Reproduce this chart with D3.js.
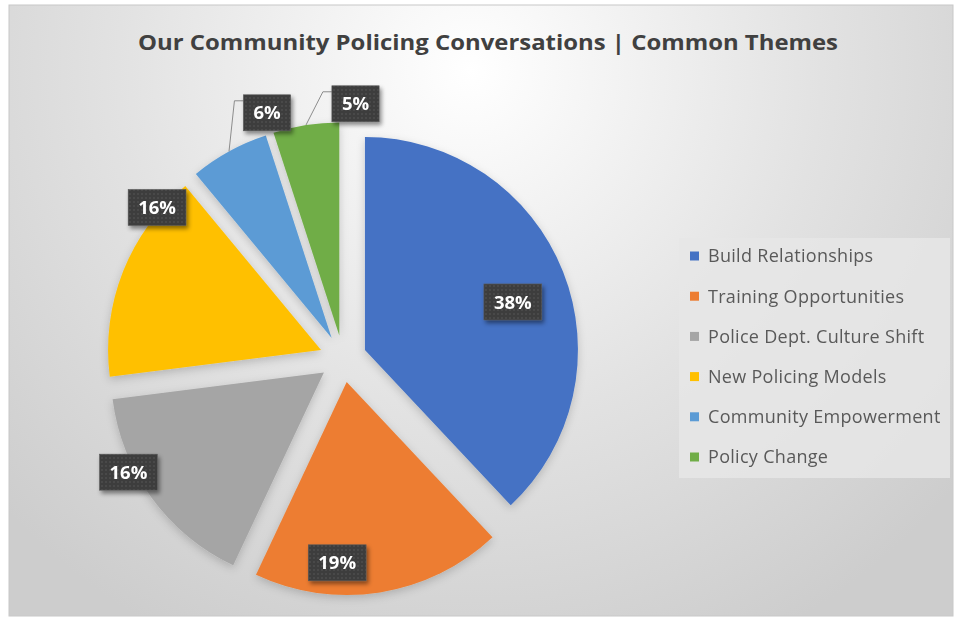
<!DOCTYPE html>
<html>
<head>
<meta charset="utf-8">
<script src="https://cdn.jsdelivr.net/npm/d3@7"></script>
<style>
  html, body { margin: 0; padding: 0; background: #fff; }
  svg { display: block; }
</style>
</head>
<body>
<svg id="chart" width="956" height="620"></svg>
<script>
const categories = ['Build Relationships', 'Training Opportunities', 'Police Dept. Culture Shift',
  'New Policing Models', 'Community Empowerment', 'Policy Change']
const shares = [38, 19, 16, 16, 6, 5]
const colors = ['#4472C4', '#ED7D31', '#A5A5A5', '#FFC000', '#5B9BD5', '#70AD47']

// where Excel put each data label: angle (deg) and distance as a share of the radius
const labelAngle = [72, 183, 243, 311, 344, 4]
const labelDist = [0.73, 0.85, 1.03, 1.02, 1.10, 1.09]
const hasLeader = [false, false, false, false, true, true]

const W = 956, H = 620
const cx = 343, cy = 358.7, R = 213, explode = 23.6

const svg = d3.select('#chart')
const defs = svg.append('defs')

const bg = defs.append('radialGradient').attr('id', 'bg')
  .attr('gradientUnits', 'userSpaceOnUse')
  .attr('cx', 470).attr('cy', 70).attr('r', 640)
bg.append('stop').attr('offset', 0).attr('stop-color', '#ffffff')
bg.append('stop').attr('offset', 0.55).attr('stop-color', '#e2e2e2')
bg.append('stop').attr('offset', 1).attr('stop-color', '#cdcdcd')

const dots = defs.append('pattern').attr('id', 'dots')
  .attr('width', 4).attr('height', 4).attr('patternUnits', 'userSpaceOnUse')
dots.append('rect').attr('width', 4).attr('height', 4).attr('fill', '#3d3d3d')
dots.append('circle').attr('cx', 2).attr('cy', 2).attr('r', 0.9).attr('fill', '#4d4d4d')

const shadow = defs.append('filter').attr('id', 'shadow')
  .attr('x', '-30%').attr('y', '-30%').attr('width', '160%').attr('height', '160%')
shadow.append('feDropShadow').attr('dx', 2).attr('dy', 3).attr('stdDeviation', 2)
  .attr('flood-color', '#000').attr('flood-opacity', 0.45)

const softShadow = defs.append('filter').attr('id', 'softShadow')
  .attr('x', '-20%').attr('y', '-20%').attr('width', '140%').attr('height', '140%')
softShadow.append('feDropShadow').attr('dx', 0).attr('dy', 3).attr('stdDeviation', 4)
  .attr('flood-color', '#000').attr('flood-opacity', 0.18)

// chart area with frame
svg.append('rect').attr('x', 9).attr('y', 5).attr('width', 944).attr('height', 611)
  .attr('fill', 'url(#bg)').attr('stroke', '#c8c8c8').attr('stroke-width', 1)

svg.append('text')
  .attr('x', 488).attr('y', 50)
  .attr('text-anchor', 'middle')
  .attr('font-family', 'Open Sans, sans-serif')
  .attr('font-weight', 'bold')
  .attr('font-size', 21)
  .attr('textLength', 700).attr('lengthAdjust', 'spacingAndGlyphs')
  .attr('fill', '#404040')
  .text('Our Community Policing Conversations | Common Themes')

const pie = d3.pie().sort(null).value((d) => d)
const arcs = pie(shares)
const arc = d3.arc().innerRadius(0).outerRadius(R)

// polar helper, angle in radians measured clockwise from 12 o'clock
const polar = (a, r) => [Math.sin(a) * r, -Math.cos(a) * r]
const sliceCenter = (d) => {
  const [dx, dy] = polar((d.startAngle + d.endAngle) / 2, explode)
  return [cx + dx, cy + dy]
}

svg.append('g').attr('filter', 'url(#softShadow)')
  .selectAll('path.slice')
  .data(arcs)
  .join('path')
  .attr('class', 'slice')
  .attr('transform', (d) => `translate(${sliceCenter(d)})`)
  .attr('d', arc)
  .attr('fill', (d, i) => colors[i])

const leaderG = svg.append('g')
const labelG = svg.append('g')

// data labels
const labels = arcs.map((d, i) => {
  const [sx, sy] = sliceCenter(d)
  const [lx, ly] = polar(labelAngle[i] * Math.PI / 180, labelDist[i] * R)
  return { d, i, x: sx + lx, y: sy + ly, sx, sy }
})

const lab = labelG.selectAll('g.label')
  .data(labels)
  .join('g')
  .attr('class', 'label')

lab.append('text')
  .attr('x', (l) => l.x).attr('y', (l) => l.y)
  .attr('dy', '0.36em')
  .attr('text-anchor', 'middle')
  .attr('font-family', 'Open Sans, sans-serif')
  .attr('font-weight', 'bold')
  .attr('font-size', 18.5)
  .attr('fill', '#ffffff')
  .text((l) => shares[l.i] + '%')

lab.each(function (l) {
  const g = d3.select(this)
  const w = g.select('text').node().getComputedTextLength() + 20
  const h = 36
  l.bx = l.x - w / 2
  l.by = l.y - h / 2
  g.insert('rect', 'text')
    .attr('x', l.bx).attr('y', l.by)
    .attr('width', w).attr('height', h)
    .attr('fill', 'url(#dots)')
    .attr('stroke', '#5a5a5a').attr('stroke-width', 0.6)
    .attr('filter', 'url(#shadow)')
})

// leader lines for the thin slices
leaderG.selectAll('path.leader')
  .data(labels.filter((l) => hasLeader[l.i]))
  .join('path')
  .attr('class', 'leader')
  .attr('d', (l) => {
    const [ax, ay] = polar((l.d.startAngle + l.d.endAngle) / 2, R)
    const yy = l.by + 6
    return d3.line()([[l.sx + ax, l.sy + ay], [l.bx - 9, yy], [l.bx, yy]])
  })
  .attr('fill', 'none')
  .attr('stroke', '#8c8c8c')
  .attr('stroke-width', 1)

// legend
const legend = svg.append('g')
legend.append('rect').attr('x', 679).attr('y', 238).attr('width', 271).attr('height', 240)
  .attr('fill', '#e6e6e6').attr('fill-opacity', 0.85)

const rowY = d3.scalePoint().domain(categories).range([256, 457])
const item = legend.selectAll('g.item')
  .data(categories)
  .join('g')
  .attr('class', 'item')
  .attr('transform', (d) => `translate(0,${rowY(d)})`)
item.append('rect').attr('x', 690).attr('y', -4.5).attr('width', 9).attr('height', 9)
  .attr('fill', (d, i) => colors[i])
item.append('text')
  .attr('x', 708).attr('dy', '0.35em')
  .attr('font-family', 'Open Sans, sans-serif')
  .attr('font-size', 18)
  .attr('letter-spacing', 0.3)
  .attr('fill', '#595959')
  .text((d) => d)
</script>
</body>
</html>
